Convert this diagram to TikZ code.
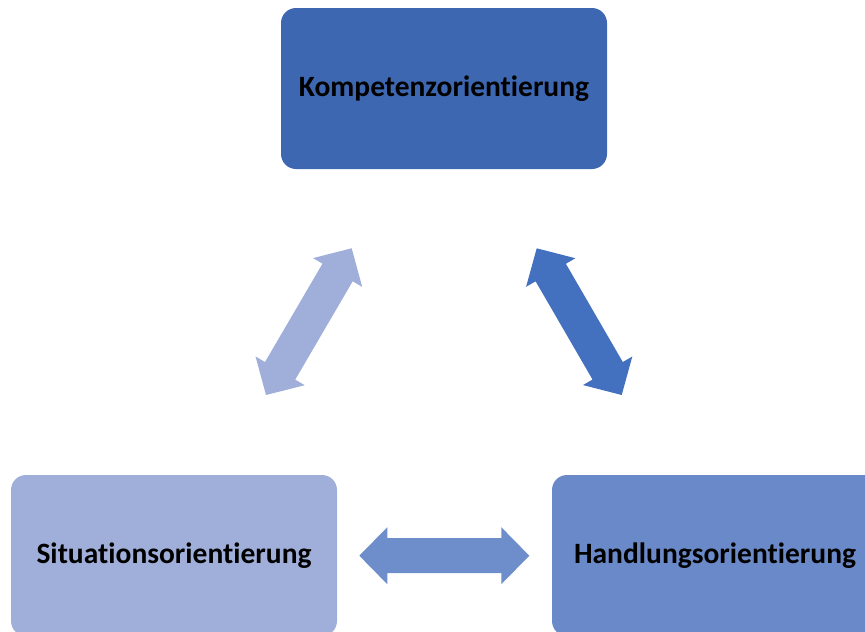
\documentclass[tikz,border=0pt]{standalone}
\usepackage{fontspec}
\setmainfont[Ligatures={TeX,NoCommon}]{Carlito}
\usetikzlibrary{positioning,calc}

\definecolor{kompblue}{HTML}{3E67B1}
\definecolor{situblue}{HTML}{A0AFD9}
\definecolor{handblue}{HTML}{6A89C8}
\definecolor{arrlight}{HTML}{A0AFD9}
\definecolor{arrdark}{HTML}{4470C0}
\definecolor{arrmid}{HTML}{6E8DCB}

% block double arrow between two points
\newcommand{\blockarrow}[3]{%
	\fill[#3] (#1)
		-- ($(#1)!28pt!(#2)!28.5pt!90:(#2)$)
		-- ($(#1)!28pt!(#2)!17.5pt!90:(#2)$)
		-- ($(#2)!28pt!(#1)!17.5pt!-90:(#1)$)
		-- ($(#2)!28pt!(#1)!28.5pt!-90:(#1)$)
		-- (#2)
		-- ($(#2)!28pt!(#1)!28.5pt!90:(#1)$)
		-- ($(#2)!28pt!(#1)!17.5pt!90:(#1)$)
		-- ($(#1)!28pt!(#2)!17.5pt!-90:(#2)$)
		-- ($(#1)!28pt!(#2)!28.5pt!-90:(#2)$)
		-- cycle;}

\begin{document}
\begin{tikzpicture}
		[x=1pt, y=-1pt,
		box/.style = {rectangle, rounded corners=15pt, inner sep=0pt,
			minimum width=326pt, minimum height=161pt, text=black,
			font=\bfseries\fontsize{29.5}{35}\selectfont}]
		\useasboundingbox (0,0) rectangle (865,632);
		\clip (0,0) rectangle (865,632);
		\node[box, fill=kompblue] (komp) at (444,88.5) {Kompetenzorientierung};
		\node[box, fill=situblue] (situ) at (174,555.5) {Situationsorientierung};
		\node[box, fill=handblue] (hand) at (715,555.5) {Handlungsorientierung};
		% arrow ends
		\coordinate (ks) at (351.7,248.3);
		\coordinate (sk) at (266,395);
		\coordinate (kh) at (536.7,248.3);
		\coordinate (hk) at (621.7,395);
		\coordinate (sh) at (359.3,555.7);
		\coordinate (hs) at (529.3,555.7);
		\blockarrow{ks}{sk}{arrlight}
		\blockarrow{kh}{hk}{arrdark}
		\blockarrow{sh}{hs}{arrmid}
	\end{tikzpicture}
\end{document}
